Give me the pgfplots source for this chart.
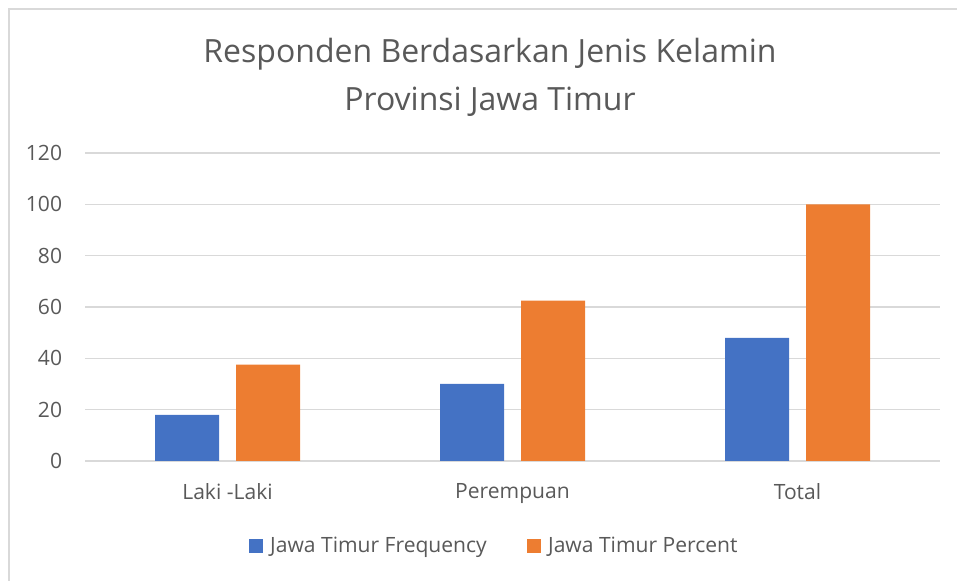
\documentclass[border=0pt]{standalone}
\usepackage{pgfplots}
\pgfplotsset{compat=1.18}
\usepackage{fontspec}
\setmainfont{Open Sans}
\definecolor{barblue}{HTML}{4472C4}
\definecolor{barorange}{HTML}{ED7D31}
\definecolor{txtgray}{HTML}{595959}
\definecolor{gridgray}{HTML}{D9D9D9}

\begin{document}
\begin{tikzpicture}
\useasboundingbox (0,0) rectangle (717.75pt,435.75pt);
\draw[gridgray, line width=1.5pt] (6.75pt,-5pt) -- (6.75pt,429pt) -- (730pt,429pt);
\node[txtgray, font=\fontsize{24}{36}\selectfont, align=center] at (367.5pt,377.5pt)
  {Responden Berdasarkan Jenis Kelamin\\Provinsi Jawa Timur};
\begin{axis}[
    at={(63.75pt,90pt)}, anchor=south west,
    scale only axis,
    width=641.25pt, height=231pt,
    ybar=12.75pt, bar width=48pt,
    xmin=-0.5, xmax=2.5,
    ymin=0, ymax=120,
    enlargelimits=false,
    axis line style={draw=none},
    major tick length=0pt,
    ymajorgrids,
    grid style={gridgray, line width=1.2pt},
    ytick={0,20,40,60,80,100,120},
    xtick={0,1,2},
    xticklabels={Laki -Laki, Perempuan, Total},
    /pgf/number format/assume math mode=true,
    tick label style={txtgray, font=\fontsize{15.8}{18}\selectfont, inner sep=0pt},
    yticklabel style={anchor=east, xshift=-17pt},
    xticklabel style={anchor=north, yshift=-16.5pt},
    legend style={at={(0.479,-0.276)}, anchor=center, draw=none,
        legend columns=2, font=\fontsize{15.8}{18}\selectfont, text=txtgray,
        /tikz/every even column/.append style={column sep=28pt}},
    legend image code/.code={\fill[#1] (0pt,-5.25pt) rectangle (10.5pt,5.25pt); \path (14pt,0pt);},
]
\addplot[fill=barblue, draw=none] coordinates {(0,18) (1,30) (2,48)};
\addplot[fill=barorange, draw=none] coordinates {(0,37.5) (1,62.5) (2,100)};
\legend{Jawa Timur Frequency, Jawa Timur Percent}
\end{axis}
\end{tikzpicture}
\end{document}
